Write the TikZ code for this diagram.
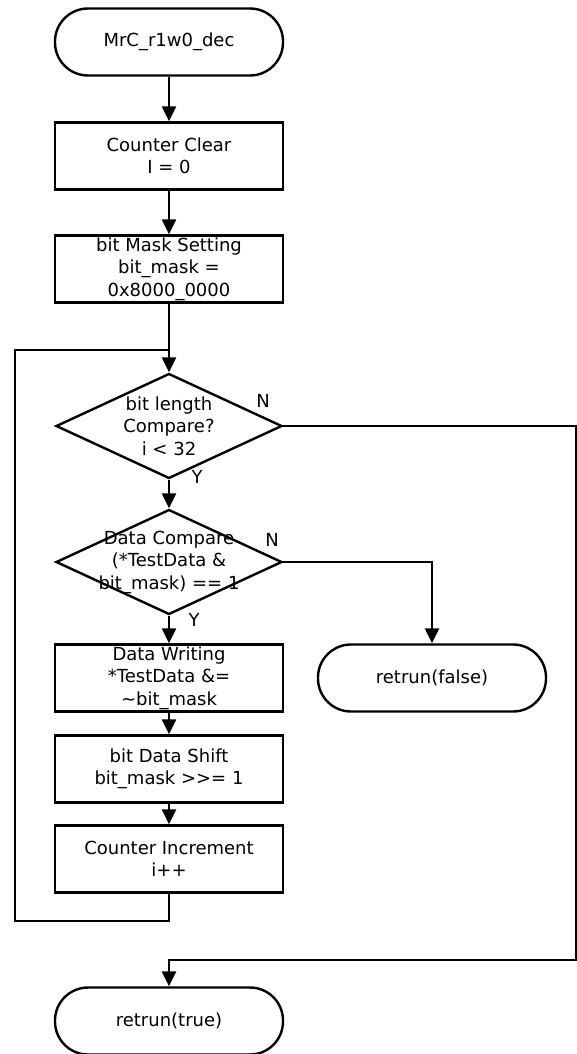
\documentclass[tikz,border=0pt]{standalone}
\usepackage{fontspec}
\setmainfont{DejaVu Sans}[Ligatures=TeXOff]
\usetikzlibrary{arrows.meta,shapes.geometric}

\begin{document}
\begin{tikzpicture}[x=1pt,y=-1pt,line width=2.4pt,
    txt/.style={font=\fontsize{18pt}{22.5pt}\selectfont,align=center,inner sep=0pt},
    procbox/.style={draw,rectangle,minimum width=228pt,minimum height=67pt,txt},
    termbox/.style={draw,rectangle,rounded corners=33pt,minimum width=228pt,minimum height=67pt,txt},
    decide/.style={draw,diamond,minimum width=226pt,minimum height=105pt,inner sep=0pt},
    arr/.style={-{Triangle[width=14pt,length=15pt]}}]
    \useasboundingbox (0,0) rectangle (577,1054);

    %Blocks%
    \node[termbox] (start) at (169,42) {MrC\_r1w0\_dec};
    \node[procbox] (clear) at (169,156) {Counter Clear\\I = 0};
    \node[procbox] (mask) at (169,269) {bit Mask Setting\\bit\_mask =\\0x8000\_0000};
    \node[decide] (lencmp) at (169,426) {};
    \node[txt] (lencmptxt) at (lencmp) {bit length\\Compare?\\i < 32};
    \node[decide] (datacmp) at (169,562) {};
    \node[txt] (datacmptxt) at (datacmp) {Data Compare\\(*TestData \&\\bit\_mask) == 1};
    \node[procbox] (write) at (169,678) {Data Writing\\*TestData \&=\\\textasciitilde bit\_mask};
    \node[procbox] (shift) at (169,769) {bit Data Shift\\bit\_mask >>= 1};
    \node[procbox] (incr) at (169,859) {Counter Increment\\i++};
    \node[termbox] (rfalse) at (432,678) {retrun(false)};
    \node[termbox] (rtrue) at (169,1021) {retrun(true)};

    % Branch labels %
    \node[txt] (lenN) at (263,401) {N};
    \node[txt] (lenY) at (197,477) {Y};
    \node[txt] (dataN) at (272,540) {N};
    \node[txt] (dataY) at (194,620) {Y};

    % Main flow %
    \draw[arr] (start) -- (clear);
    \draw[arr] (clear) -- (mask);
    \draw[arr] (mask) -- (lencmp);
    \draw[arr] (lencmp) -- (datacmp);
    \draw[arr] (datacmp) -- (write);
    \draw[arr] (write) -- (shift);
    \draw[arr] (shift) -- (incr);

    % Loop back %
    \coordinate (loopbot) at (15,921);
    \coordinate (looptop) at (15,350);
    \coordinate (loopin) at (169,350);
    \draw (incr.south) |- (loopbot) -- (looptop) -- (loopin);

    % N branches %
    \coordinate (rcorner) at (576,960);
    \draw[arr] (lencmp.east) -| (rcorner) -| (rtrue.north);
    \draw[arr] (datacmp.east) -| (rfalse.north);
\end{tikzpicture}
\end{document}
